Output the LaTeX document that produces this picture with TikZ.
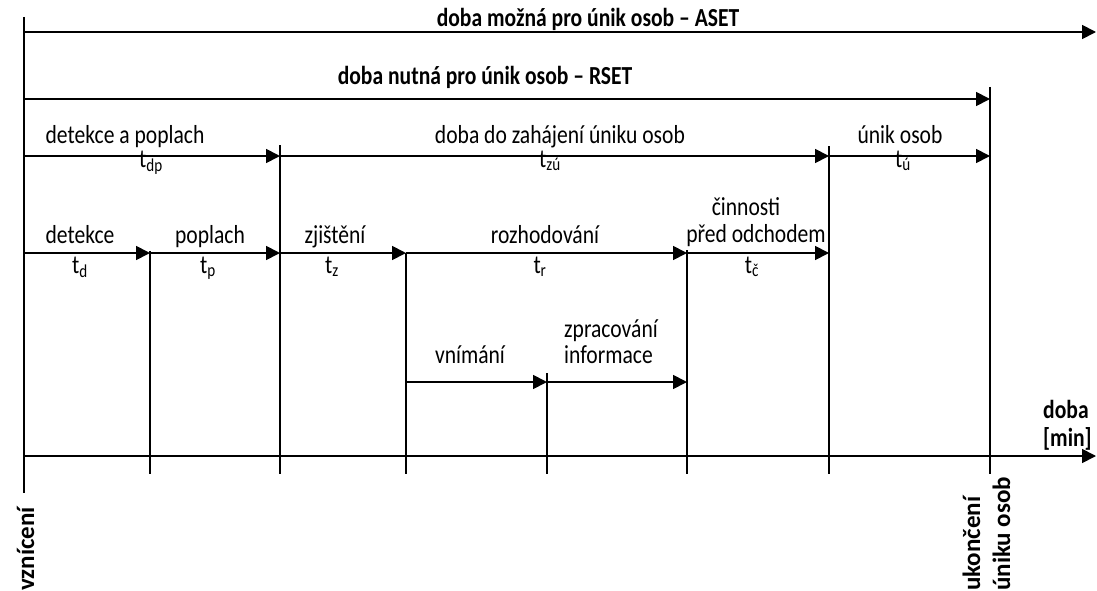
\documentclass[tikz,border=0pt]{standalone}
\usepackage{fontspec}
\setmainfont{Carlito}
\newfontfamily\narrowfont[FakeStretch=0.83]{Carlito}
\usetikzlibrary{arrows.meta}
\begin{document}
\begin{tikzpicture}[x=1pt,y=-1pt,
  every node/.style={inner sep=0pt, font=\narrowfont\fontsize{26}{30}\selectfont},
  lbl/.style={anchor=base},
  lblw/.style={anchor=base west},
  bl/.style={anchor=base, font=\narrowfont\fontsize{26}{30}\selectfont\bfseries},
  blw/.style={anchor=base west, font=\narrowfont\fontsize{26}{30}\selectfont\bfseries},
  rot/.style={anchor=base west, rotate=90, font=\fontsize{25}{30}\selectfont\bfseries},
  ln/.style={line width=1.8pt},
  arr/.style={line width=1.8pt, -{Triangle[length=14pt,width=14pt]}}]
\useasboundingbox (0,0) rectangle (1097,591);
% coordinates
\coordinate (s0) at (24,32);  \coordinate (sE) at (1096,32);
\coordinate (r0) at (24,99);  \coordinate (r7) at (990,99);
\coordinate (p0) at (24,156); \coordinate (p2) at (280,156);
\coordinate (p6) at (829,156); \coordinate (p7) at (990,156);
\coordinate (q0) at (24,253); \coordinate (q1) at (150,253);
\coordinate (q2) at (280,253); \coordinate (q3) at (406,253);
\coordinate (q5) at (687,253); \coordinate (q6) at (829,253);
\coordinate (v3) at (406,382); \coordinate (v4) at (547,382);
\coordinate (v5) at (687,382);
\coordinate (a0) at (24,456); \coordinate (aE) at (1096,456);
% vertical lines
\coordinate (t0) at (24,17);   \coordinate (b0) at (24,493);
\coordinate (t1) at (150,251); \coordinate (b1) at (150,474);
\coordinate (t2) at (280,145); \coordinate (b2) at (280,474);
\coordinate (t3) at (406,253); \coordinate (b3) at (406,474);
\coordinate (t4) at (547,373); \coordinate (b4) at (547,474);
\coordinate (t5) at (687,250); \coordinate (b5) at (687,474);
\coordinate (t6) at (829,146); \coordinate (b6) at (829,474);
\coordinate (t7) at (990,87);  \coordinate (b7) at (990,474);
\foreach \i in {0,...,7} \draw[ln] (t\i) -- (b\i);
% arrows
\draw[arr] (s0) -- (sE);
\draw[arr] (r0) -- (r7);
\draw[arr] (p0) -- (p2);
\draw[arr] (p2) -- (p6);
\draw[arr] (p6) -- (p7);
\draw[arr] (q0) -- (q1);
\draw[arr] (q1) -- (q2);
\draw[arr] (q2) -- (q3);
\draw[arr] (q3) -- (q5);
\draw[arr] (q5) -- (q6);
\draw[arr] (v3) -- (v4);
\draw[arr] (v4) -- (v5);
\draw[arr] (a0) -- (aE);
% labels
\node[bl] (aset) at (588,27) {doba možná pro únik osob – ASET};
\node[bl] (rset) at (485,85) {doba nutná pro únik osob – RSET};
\node[lbl] (ldp) at (125,143) {detekce a poplach};
\node[lbl] (tdp) at (151,167) {t\textsubscript{dp}};
\node[lbl] (lzu) at (560,143) {doba do zahájení úniku osob};
\node[lbl] (tzu) at (550,167) {t\textsubscript{zú}};
\node[lbl] (lu) at (900,143) {únik osob};
\node[lbl] (tu) at (903,167) {t\textsubscript{ú}};
\node[lbl] (ld) at (80,243) {detekce};
\node[lbl] (lp) at (210,243) {poplach};
\node[lbl] (lz) at (335,243) {zjištění};
\node[lbl] (lr) at (545,243) {rozhodování};
\node[lbl] (lc1) at (746,215) {činnosti};
\node[lbl] (lc2) at (756,242) {před odchodem};
\node[lbl] (td) at (80,273) {t\textsubscript{d}};
\node[lbl] (tp) at (208,273) {t\textsubscript{p}};
\node[lbl] (tz) at (332,273) {t\textsubscript{z}};
\node[lbl] (tr) at (540,273) {t\textsubscript{r}};
\node[lbl] (tc) at (752,273) {t\textsubscript{č}};
\node[lbl] (lv) at (470,363) {vnímání};
\node[lblw] (li1) at (564,337) {zpracování};
\node[lblw] (li2) at (564,363) {informace};
\node[blw] (ld1) at (1043,418) {doba};
\node[blw] (ld2) at (1043,446) {[min]};
\node[rot] (lvz) at (34,591) {vznícení};
\node[rot] (luk1) at (980,591) {ukončení};
\node[rot] (luk2) at (1010,591) {úniku osob};
\end{tikzpicture}
\end{document}
